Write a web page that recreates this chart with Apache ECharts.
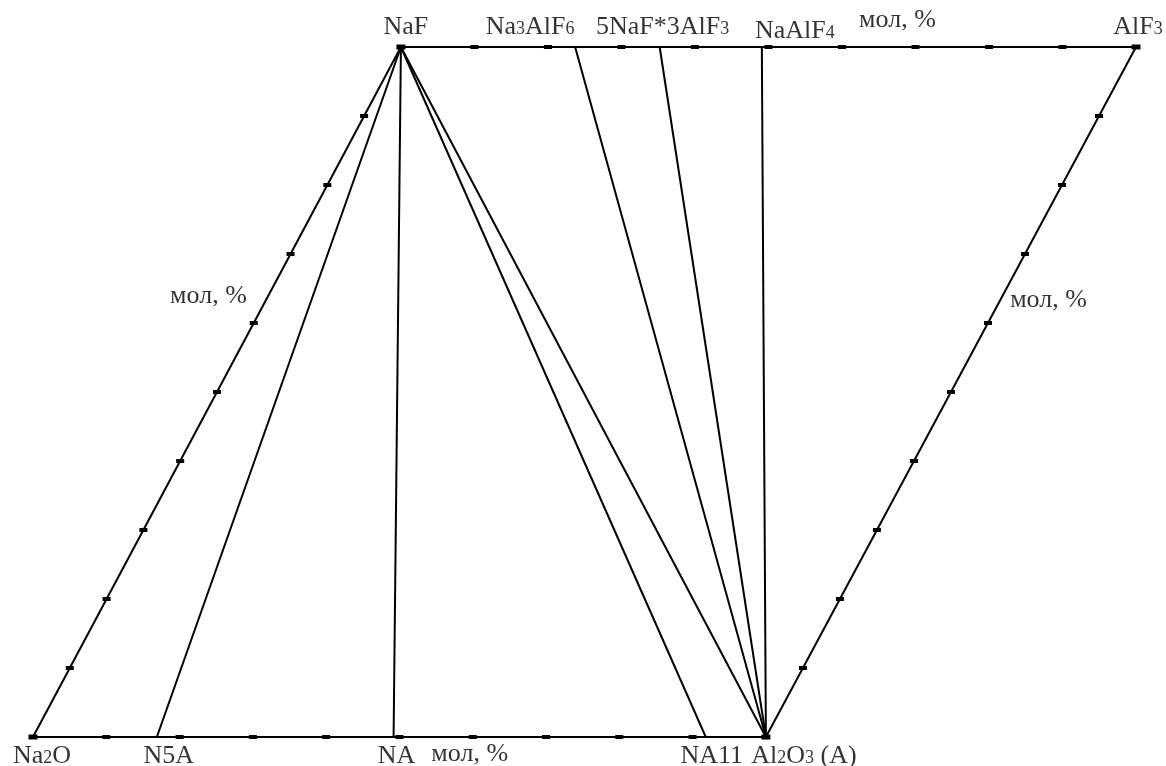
<!DOCTYPE html>
<html>
<head>
<meta charset="utf-8">
<title>NaF – AlF3 – Al2O3 – Na2O</title>
<script src="https://cdn.jsdelivr.net/npm/echarts@6/dist/echarts.min.js"></script>
<style>
  html, body { margin: 0; padding: 0; background: #fff; }
  #chart { width: 1166px; height: 766px; }
</style>
</head>
<body>
<div id="chart"></div>
<script>
// Corner compounds of the reciprocal system (diagram units: 100 = one side)
const vertexNames = ['Na2O', 'Al2O3', 'AlF3', 'NaF'];
const vertexCoords = [[0, 0], [100, 0], [150.5, 100], [50.2, 100]];

// Compounds on the Na2O – Al2O3 side, mol % Al2O3
const oxideNames = ['N5A', 'NA', 'NA11'];
const oxideMolPct = [16.9, 49.2, 91.8];

// Compounds on the NaF – AlF3 side, mol % AlF3
const fluorideNames = ['Na3AlF6', '5NaF*3AlF3', 'NaAlF4'];
const fluorideMolPct = [23.7, 35.2, 49.1];

// Scale marks along every side, mol %
const tickPct = [10, 20, 30, 40, 50, 60, 70, 80, 90];

const V = {};
vertexNames.forEach((n, i) => { V[n] = vertexCoords[i]; });

const along = (a, b, pct) => [a[0] + (b[0] - a[0]) * pct / 100, a[1] + (b[1] - a[1]) * pct / 100];

const P = Object.assign({}, V);
oxideNames.forEach((n, i) => { P[n] = along(V.Na2O, V.Al2O3, oxideMolPct[i]); });
fluorideNames.forEach((n, i) => { P[n] = along(V.NaF, V.AlF3, fluorideMolPct[i]); });

// Sides of the section and the joins between compounds
const sides = [['Na2O', 'Al2O3'], ['NaF', 'AlF3'], ['Na2O', 'NaF'], ['Al2O3', 'AlF3']];
const joins = [
  ['NaF', 'N5A'], ['NaF', 'NA'], ['NaF', 'NA11'], ['NaF', 'Al2O3'],
  ['Al2O3', 'Na3AlF6'], ['Al2O3', '5NaF*3AlF3'], ['Al2O3', 'NaAlF4']
];

const segments = sides.concat(joins).map(([a, b]) => ({ coords: [P[a], P[b]] }));

const ticks = [];
sides.forEach(([a, b]) => tickPct.forEach(t => ticks.push(along(V[a], V[b], t))));

// Text of the compound labels; [n] marks a small index digit
const labelText = {
  'Na2O': 'Na[2]O',
  'Al2O3': 'Al[2]O[3] (A)',
  'AlF3': 'AlF[3]',
  'NaF': 'NaF',
  'N5A': 'N5A',
  'NA': 'NA',
  'NA11': 'NA11',
  'Na3AlF6': 'Na[3]AlF[6]',
  '5NaF*3AlF3': '5NaF*3AlF[3]',
  'NaAlF4': 'NaAlF[4]'
};
const unitText = 'мол, %';

// turn 'Na[2]O' into rich-text tokens with a small, baseline-aligned index
function richFormula(t) {
  return t.split(/(\[\d+\])/).filter(Boolean).map(p =>
    p[0] === '[' ? '{s|' + p.slice(1, -1) + '}' : '{n|' + p + '}'
  ).join('');
}

// label offsets in pixels from the point they describe
const labelOffsets = {
  'Na2O': [9, 18], 'N5A': [12, 18], 'NA': [3, 18], 'NA11': [6, 18], 'Al2O3': [38, 18],
  'NaF': [5, -21], 'Na3AlF6': [-45, -21], '5NaF*3AlF3': [3, -21],
  'NaAlF4': [33, -17], 'AlF3': [2, -21]
};
// unit captions: side, place along the side (%), pixel offset
const unitLabels = [
  { side: ['Na2O', 'Al2O3'], at: 60, off: [-3, 16] },
  { side: ['NaF', 'AlF3'], at: 67, off: [4, -28] },
  { side: ['Na2O', 'NaF'], at: 64, off: [-60, 0] },
  { side: ['Al2O3', 'AlF3'], at: 63.4, off: [48, 0] }
];

const labelData = Object.keys(labelOffsets).map(n => ({
  value: P[n],
  label: { formatter: richFormula(labelText[n]), offset: labelOffsets[n] }
})).concat(unitLabels.map(u => ({
  value: along(V[u.side[0]], V[u.side[1]], u.at),
  label: { formatter: richFormula(unitText), offset: u.off }
})));

const font = "'Liberation Serif', 'Times New Roman', serif";

const chart = echarts.init(document.getElementById('chart'));
chart.setOption({
  animation: false,
  backgroundColor: '#fff',
  grid: { left: 33, top: 47, width: 1103, height: 690 },
  xAxis: { type: 'value', min: 0, max: 150.5, show: false },
  yAxis: { type: 'value', min: 0, max: 100, show: false },
  series: [
    {
      type: 'lines',
      coordinateSystem: 'cartesian2d',
      silent: true,
      lineStyle: { color: '#000', width: 2, opacity: 1 },
      data: segments,
      z: 2
    },
    {
      type: 'scatter',
      silent: true,
      symbol: 'rect',
      symbolSize: [8, 4],
      itemStyle: { color: '#000', opacity: 1 },
      data: ticks,
      z: 3
    },
    {
      type: 'scatter',
      silent: true,
      symbol: 'rect',
      symbolSize: [9, 5],
      itemStyle: { color: '#000', opacity: 1 },
      data: vertexCoords,
      z: 3
    },
    {
      type: 'scatter',
      silent: true,
      symbolSize: 1,
      itemStyle: { color: 'rgba(0,0,0,0)' },
      label: {
        show: true,
        position: 'inside',
        color: '#000',
        fontFamily: font,
        fontSize: 26,
        verticalAlign: 'middle',
        rich: {
          n: { fontFamily: font, fontSize: 26, lineHeight: 28, verticalAlign: 'bottom', color: '#000' },
          s: { fontFamily: font, fontSize: 18, lineHeight: 20, verticalAlign: 'bottom', padding: [0, 0, 2, 0], color: '#000' }
        }
      },
      data: labelData,
      z: 4
    }
  ]
});
</script>
</body>
</html>
